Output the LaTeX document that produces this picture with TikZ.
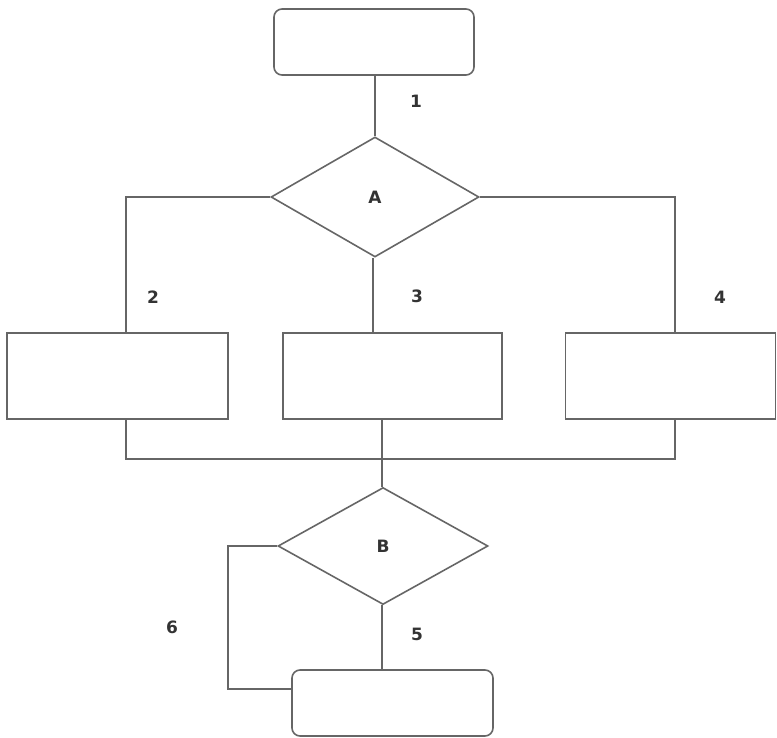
\documentclass[tikz,border=0pt]{standalone}
\usepackage{fontspec}
\setmainfont{DejaVu Sans}
\usetikzlibrary{shapes.geometric}
\definecolor{linegray}{HTML}{666666}
\definecolor{txtgray}{HTML}{333333}
\begin{document}
\begin{tikzpicture}[x=1pt,y=-1pt,
  ln/.style={draw=linegray,line width=1.6pt},
  rbox/.style={ln,rectangle,rounded corners=8pt,inner sep=0pt},
  sbox/.style={ln,rectangle,inner sep=0pt},
  dia/.style={ln,diamond,inner sep=0pt,font=\fontsize{17}{17}\selectfont\bfseries,text=txtgray},
  lbl/.style={font=\fontsize{17}{17}\selectfont\bfseries,text=txtgray,inner sep=0pt}]
\useasboundingbox (0,0) rectangle (777,737);
\node[rbox,minimum width=200pt,minimum height=66pt] (top) at (374,42) {};
\node[dia,minimum width=208pt,minimum height=120pt] (A) at (375,197) {A};
\node[sbox,minimum width=221pt,minimum height=86pt] (L) at (117.5,376) {};
\node[sbox,minimum width=219pt,minimum height=86pt] (M) at (392.5,376) {};
\node[sbox,minimum width=210pt,minimum height=86pt] (R) at (670.5,376) {};
\node[dia,minimum width=210pt,minimum height=117pt] (B) at (383,546) {B};
\node[rbox,minimum width=201pt,minimum height=66pt] (E) at (392.5,703) {};
\coordinate (J) at (382,459);
\coordinate (c6) at (228,689);
% connectors
\draw[ln] (top.south -| A.north) -- (A.north);
\draw[ln] (A.west) -| ([xshift=8.5pt]L.north);
\draw[ln] (A.east) -| ([xshift=4.5pt]R.north);
\draw[ln] ([xshift=-19.5pt]M.north |- A.south) -- ([xshift=-19.5pt]M.north);
\draw[ln] ([xshift=8.5pt]L.south) |- (J);
\draw[ln] ([xshift=4.5pt]R.south) |- (J);
\draw[ln] ([xshift=-10.5pt]M.south) -- (J) -- (J |- B.north);
\draw[ln] (J |- B.south) -- (J |- E.north);
\draw[ln] (B.west) -| (c6) -- ([yshift=14pt]E.west);
% labels
\node[lbl] (n1) at (416,101) {1};
\node[lbl] (n2) at (153,297) {2};
\node[lbl] (n3) at (417,296) {3};
\node[lbl] (n4) at (720,297) {4};
\node[lbl] (n5) at (417,634) {5};
\node[lbl] (n6) at (172,627) {6};
\end{tikzpicture}
\end{document}
